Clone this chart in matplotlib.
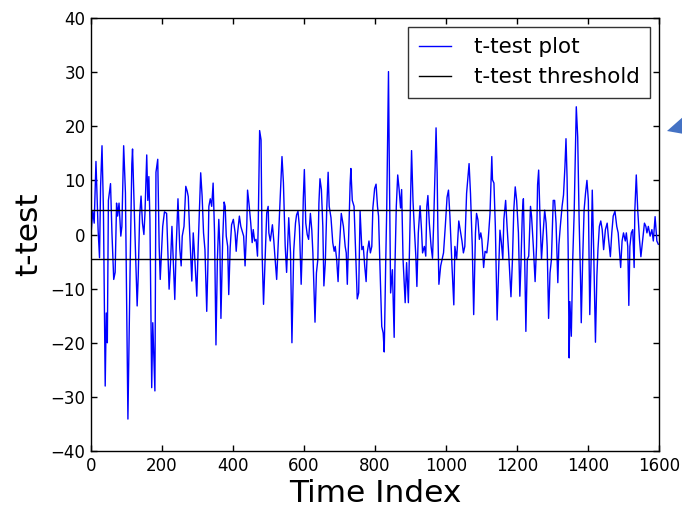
import matplotlib
matplotlib.use("Agg")
import matplotlib.pyplot as plt
from matplotlib.patches import Polygon

# ---- data ----
time_index = [
    1, 5, 9, 14, 20, 24, 27, 31, 35, 40, 43, 46, 49, 55, 59, 64, 68, 72, 75, 79, 84, 87,
    92, 97, 104, 110, 115, 117, 120, 124, 130, 133, 137, 141, 145, 149, 152, 157, 160, 163,
    166, 171, 174, 180, 183, 188, 192, 195, 202, 207, 213, 220, 224, 228, 236, 240, 245, 250,
    254, 257, 262, 267, 271,
    274, 278, 284, 288, 293, 298, 302, 309, 313, 317, 321, 326, 329, 332, 336, 340, 344, 348,
    352, 356, 360, 363, 366, 371, 375, 378, 381, 385, 388, 392, 396, 401, 406, 409, 412, 418,
    422, 426, 430, 434, 439, 441, 445, 450, 454, 457, 461, 465, 469, 471, 475, 479, 482, 486,
    490, 495, 499, 501, 505, 511, 515, 518, 523, 527, 532, 538,
    542, 547, 551, 557, 562, 566, 571, 576, 579, 583, 587, 592, 595, 598, 601, 605, 609, 613,
    618, 622, 625, 631, 635, 639, 642, 645, 649, 653, 656, 660, 664, 668, 671, 676, 681, 685,
    688, 692, 696, 700, 705, 711, 716, 719, 722, 726, 730, 732, 736, 741, 746, 750, 754, 758,
    763, 767, 771, 775, 778, 783, 787, 791, 794, 799, 803, 807, 810,
    814, 819, 823, 826, 830, 833, 838, 840, 844, 849, 854, 856, 860, 864, 868, 872, 875, 879,
    885, 889, 894, 898, 903, 907, 911, 915, 918, 922, 927, 931, 934, 939, 943, 946, 949, 953,
    958, 962, 965, 969, 972, 975, 977, 980, 985, 989, 993, 998, 1003, 1007, 1011, 1017, 1022,
    1025, 1030, 1036, 1040, 1045, 1049, 1053, 1058, 1065, 1069,
    1074, 1078, 1083, 1086, 1090, 1094, 1098, 1101, 1106, 1110, 1115, 1119, 1124, 1129, 1131,
    1135, 1139, 1144, 1148, 1152, 1156, 1160, 1163, 1168, 1172, 1176, 1178, 1183, 1187, 1191,
    1195, 1199, 1204, 1208, 1211, 1215, 1218, 1222, 1225, 1229, 1233, 1238, 1241, 1246, 1251,
    1255, 1258, 1261, 1265, 1269, 1273, 1278, 1282, 1285, 1289, 1293, 1297, 1302, 1306, 1310,
    1315, 1318, 1322, 1327, 1331, 1335, 1338,
    1341, 1344, 1347, 1349, 1353, 1357, 1361, 1364, 1367, 1371, 1375, 1379, 1381, 1385, 1389,
    1393, 1397, 1401, 1405, 1409, 1412, 1416, 1421, 1425, 1428, 1432, 1436, 1440, 1444, 1449,
    1454, 1458, 1463, 1467, 1471, 1476, 1481, 1485, 1489, 1492, 1496, 1500, 1505, 1508, 1512,
    1515, 1518, 1522, 1526, 1530, 1532, 1536, 1540, 1545, 1549, 1554, 1559, 1563, 1566, 1570,
    1575, 1580, 1584, 1589, 1594, 1598,
]
t_values = [
    0.9, 4.3, 2.1, 13.5, 0.9, -4.3, 8.9, 16.4, 4.6, -28.0, -14.5, -20.0, 6.3, 9.4, 0.3, -8.3,
    -7.0, 5.8, 3.4, 5.8, -0.3, 1.5, 16.4, 7.7, -34.1, -7.0, 13.0, 15.8, 8.8, -0.3, -13.2,
    -7.7, 3.4, 7.1, 2.1, 0.0, 3.9, 14.7, 6.3, 10.7, 2.7, -28.3, -16.3, -28.9, 11.5, 13.9,
    -2.2, -8.3, 1.5, 4.2, 3.9, -10.1, -5.2, 1.5, -12.0, -2.3, 6.6, -2.5, -5.8, -0.3, 1.5,
    8.9, 8.0,
    7.0, 0.3, -8.6, 0.3, -5.2, -11.4, -2.1, 11.4, 7.1, 0.3, -2.8, -14.2, -6.5, 5.2, 6.6,
    5.2, 9.5, 0.3, -20.4, -4.6, 2.8, -2.2, -15.5, -0.9, 6.0, 5.2, -0.3, -2.2, -11.1, -2.5,
    1.8, 2.8, 0.3, -3.1, -0.3, 3.4, 1.5, 0.6, -0.3, -5.8, 2.1, 8.2, 5.7, 2.1, -1.5, 0.9,
    -1.2, -0.9, -4.0, 1.5, 19.2, 17.5, -3.4, -12.9, -5.2, 4.0, 5.2, 0.3, -1.2, 1.8, -1.2,
    -4.0, -8.3, -2.2, 5.8, 14.4,
    9.6, -2.1, -7.0, 3.1, -3.4, -20.0, -3.1, 2.1, 3.6, 4.3, 1.5, -9.2, -2.8, 6.6, 12.0,
    2.1, 0.0, -0.9, 3.9, 0.8, -3.4, -16.2, -7.1, -4.6, 5.8, 10.3, 8.3, 1.5, -9.5, -5.2,
    4.6, 11.5, 5.2, 3.1, -1.5, -3.1, -2.2, -4.6, -8.7, -2.2, 3.9, 1.5, -2.2, -3.4, -9.2,
    0.3, 9.5, 12.2, 6.3, 5.2, -4.0, -11.9, -10.8, 4.3, -2.8, -2.2, -5.8, -8.7, -3.4,
    -1.2, -3.4, -2.2, 4.9, 8.5, 9.3, 5.2, 3.4,
    -6.0, -17.0, -18.2, -21.7, -5.8, 4.6, 30.1, 15.0, -10.8, -6.5, -19.0, -6.5, 5.2,
    11.0, 8.3, 4.9, 8.3, -4.6, -12.6, -5.2, -12.6, 0.3, 15.5, 6.3, 0.9, -4.0, -9.6, 0.3,
    5.3, 0.9, -3.4, -2.2, -4.0, 5.2, 7.2, 2.1, -2.2, -4.4, 1.5, 11.4, 19.7, 11.4, 1.5,
    -9.2, -5.8, -4.6, -3.4, 1.5, 6.9, 8.2, 3.4, -6.0, -13.0, -2.2, -4.6, 2.5, 0.9, -1.2,
    -3.4, -2.2, 7.6, 13.1, 7.6,
    -2.2, -14.8, 0.3, 3.9, 2.7, -0.9, 0.3, -0.9, -6.1, -3.1, -3.4, -0.9, 3.9, 14.4, 10.1,
    9.5, 1.5, -15.8, -7.1, 0.8, -1.5, -4.6, 2.8, 6.3, 1.5, -2.8, -5.4, -11.5, -5.0, 4.6,
    8.8, 6.3, 0.3, -11.4, -5.8, 3.9, 6.6, -5.8, -17.9, -4.6, -4.0, 5.2, 3.4, -2.2, -8.7,
    -2.2, 9.2, 11.9, 2.7, -4.6, -0.3, 4.5, 2.1, -2.2, -15.5, -7.1, -4.6, 6.3, 6.3, 2.1,
    -8.9, -1.9, 1.5, 5.2, 7.3, 12.5, 17.7,
    10.6, -2.2, -22.8, -12.4, -18.8, -4.6, 3.9, 13.7, 23.6, 18.0, 2.7, -8.4, -16.3, -4.6,
    4.5, 7.6, 10.0, 6.3, -14.8, -4.0, 8.2, -2.8, -19.9, -7.7, -2.8, 1.5, 2.5, 0.9, -2.8,
    0.9, 2.1, -0.9, -4.1, 0.3, 3.4, 4.3, 1.5, 0.3, -3.4, -6.1, -1.2, 0.3, -1.2, 0.3, -2.2,
    -13.1, -2.2, 0.3, 0.9, -6.1, 4.6, 11.0, 4.6, -0.9, -4.1, -0.9, 2.1, 1.5, 0.3, 1.5,
    -0.3, 0.9, -1.2, 3.3, -1.2, -1.8,
]
threshold = 4.5
x_limits = [0, 1600]
y_limits = [-40, 40]
x_ticks = [0, 200, 400, 600, 800, 1000, 1200, 1400, 1600]
y_ticks = [-40, -30, -20, -10, 0, 10, 20, 30, 40]
series_labels = ["t-test plot", "t-test threshold"]

plt.rcParams["font.family"] = ["DejaVu Sans"]
plt.rcParams["axes.unicode_minus"] = True

fig = plt.figure(figsize=(6.82, 5.07), dpi=100, facecolor="white")
ax = fig.add_axes([91 / 682, 1 - 451 / 507, (659 - 91) / 682, (451 - 18) / 507])

ax.plot(time_index, t_values, color="#0000ff", lw=1.0, label=series_labels[0])
ax.axhline(threshold, color="black", lw=1.0, label=series_labels[1])
ax.axhline(-threshold, color="black", lw=1.0)

ax.set_xlim(*x_limits)
ax.set_ylim(*y_limits)
ax.set_xticks(x_ticks)
ax.set_yticks(y_ticks)
ax.tick_params(direction="in", length=4, width=1, top=True, right=True,
               labelsize=12, pad=4)
for s in ax.spines.values():
    s.set_linewidth(1.0)

ax.set_xlabel("Time Index", fontsize=22.5, labelpad=3)
ax.set_ylabel("t-test", fontsize=22.5, labelpad=5)

leg = ax.legend(loc="upper right", fontsize=15.5, fancybox=False, frameon=True,
                edgecolor="black", handlelength=1.5, borderaxespad=0.4,
                borderpad=0.5, labelspacing=0.45, handletextpad=1.05)
leg.get_frame().set_linewidth(1.0)

# partial marker at the right edge of the image
tri = Polygon([(667 / 682, 1 - 131 / 507), (684 / 682, 1 - 116 / 507), (684 / 682, 1 - 134 / 507)],
              closed=True, transform=fig.transFigure, facecolor="#4472c4",
              edgecolor="none", clip_on=False)
fig.patches.append(tri)

fig.savefig("out.png", dpi=100, facecolor="white")
